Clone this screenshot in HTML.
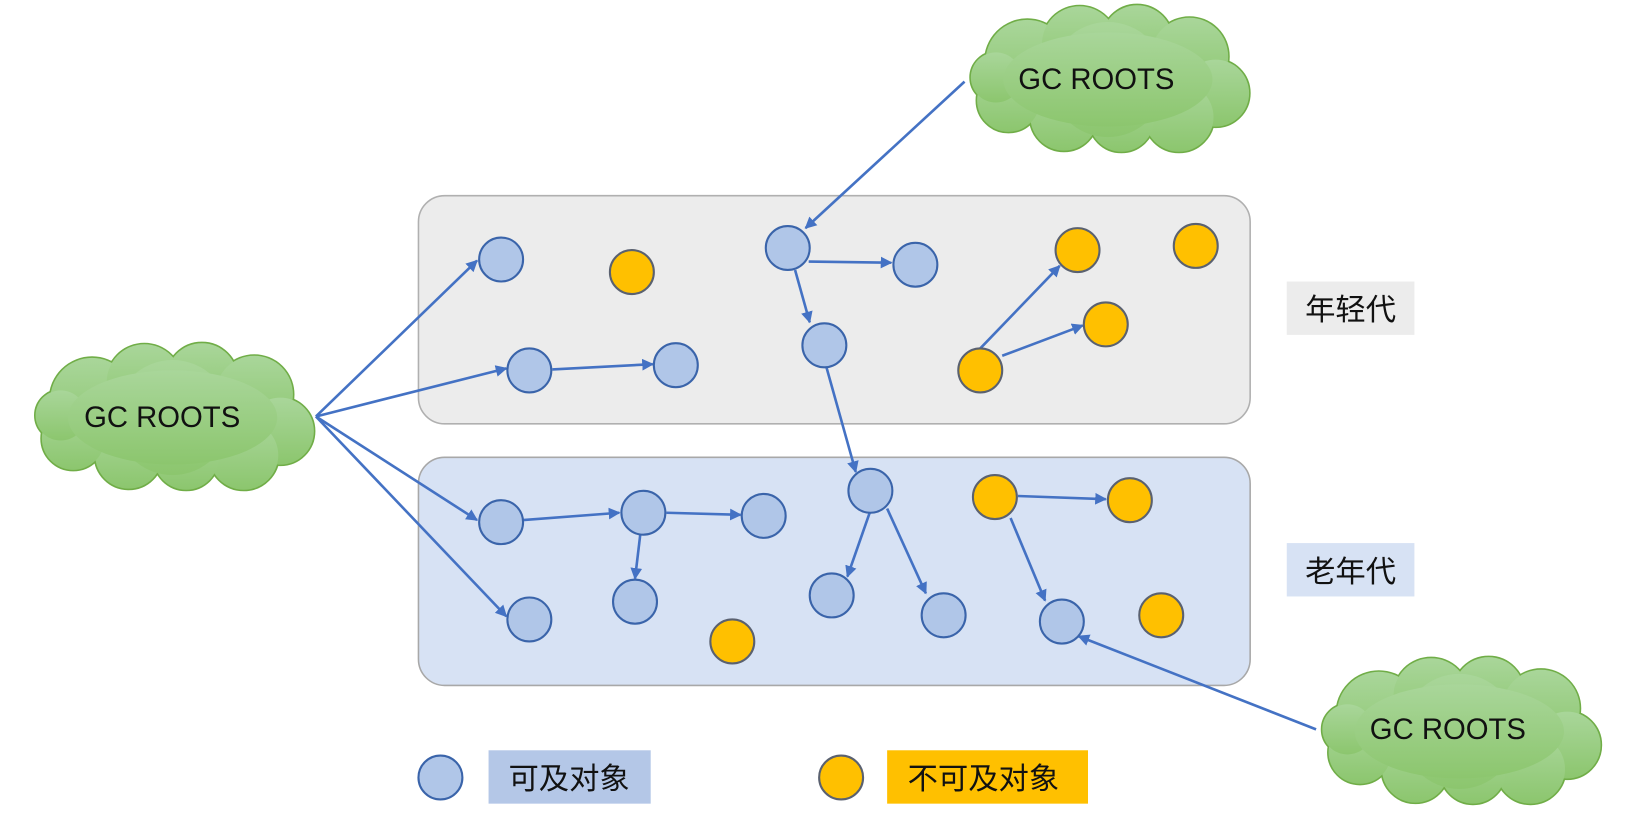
<!DOCTYPE html>
<html><head><meta charset="utf-8"><style>
html,body{margin:0;padding:0;background:#fff;}
svg{display:block;}
text{font-family:"Liberation Sans","Noto Sans CJK SC",sans-serif;}
</style></head><body>
<svg width="1632" height="834" viewBox="0 0 1560 797" preserveAspectRatio="none" xmlns="http://www.w3.org/2000/svg">
<defs>
<linearGradient id="g" x1="0" y1="0" x2="0" y2="1"><stop offset="0" stop-color="#a9d69a"/><stop offset="1" stop-color="#8cc66e"/></linearGradient>
<marker id="a" viewBox="0 0 10 10" refX="9" refY="5" markerWidth="4.5" markerHeight="4.5" orient="auto"><path d="M0,0 L10,5 L0,10 z" fill="#4472c4"/></marker>
<g id="cloud">
<g fill="none" stroke="#70ad47" stroke-width="3">
<circle cx="60" cy="55" r="40"/><circle cx="110" cy="38" r="36"/><circle cx="165" cy="35" r="34"/><circle cx="215" cy="50" r="37"/><circle cx="240" cy="85" r="32"/><circle cx="205" cy="108" r="33"/><circle cx="150" cy="110" r="31"/><circle cx="95" cy="108" r="32"/><circle cx="42" cy="92" r="30"/><circle cx="30" cy="70" r="24"/>
</g>
<g fill="url(#g)">
<circle cx="60" cy="55" r="40"/><circle cx="110" cy="38" r="36"/><circle cx="165" cy="35" r="34"/><circle cx="215" cy="50" r="37"/><circle cx="240" cy="85" r="32"/><circle cx="205" cy="108" r="33"/><circle cx="150" cy="110" r="31"/><circle cx="95" cy="108" r="32"/><circle cx="42" cy="92" r="30"/><circle cx="30" cy="70" r="24"/><circle cx="137" cy="72" r="55"/><ellipse cx="137" cy="72" rx="100" ry="45"/>
</g>
</g>
</defs>
<rect x="400" y="187" width="795" height="218" rx="25" fill="#ececec" stroke="#b0b0b0" stroke-width="1.5"/>
<rect x="400" y="437" width="795" height="218" rx="25" fill="#d7e2f4" stroke="#a8a8a8" stroke-width="1.5"/>
<rect x="1230" y="269" width="122" height="51" fill="#ececec"/>
<text x="1291" y="306" font-size="29" text-anchor="middle" fill="#111">年轻代</text>
<rect x="1230" y="519" width="122" height="51" fill="#d7e2f4"/>
<text x="1291" y="556" font-size="29" text-anchor="middle" fill="#111">老年代</text>

<use href="#cloud" x="922" y="4"/>
<text x="1048" y="85" font-size="28" text-anchor="middle" fill="#111">GC ROOTS</text>
<use href="#cloud" x="28" y="327"/>
<text x="155" y="408" font-size="28" text-anchor="middle" fill="#111">GC ROOTS</text>
<use href="#cloud" x="1258" y="627"/>
<text x="1384" y="706" font-size="28" text-anchor="middle" fill="#111">GC ROOTS</text>

<g stroke="#4472c4" stroke-width="2.5" fill="none" marker-end="url(#a)">
<line x1="302" y1="398" x2="456" y2="249"/>
<line x1="302" y1="398" x2="484" y2="352"/>
<line x1="302" y1="398" x2="456" y2="497"/>
<line x1="302" y1="398" x2="484" y2="589"/>
<line x1="922" y1="78" x2="770" y2="218"/>
<line x1="773" y1="250" x2="852" y2="251"/>
<line x1="760" y1="258" x2="774" y2="308"/>
<line x1="790" y1="351" x2="818" y2="451"/>
<line x1="528" y1="353" x2="624" y2="348"/>
<line x1="937" y1="333" x2="1013" y2="254"/>
<line x1="958" y1="340" x2="1035" y2="311"/>
<line x1="500" y1="497" x2="592" y2="490"/>
<line x1="637" y1="490" x2="708" y2="492"/>
<line x1="612" y1="511" x2="607" y2="553"/>
<line x1="832" y1="488" x2="810" y2="551"/>
<line x1="848" y1="486" x2="885" y2="567"/>
<line x1="973" y1="474" x2="1057" y2="477"/>
<line x1="966" y1="495" x2="999" y2="574"/>
<line x1="1258" y1="697" x2="1031" y2="608"/>
</g>

<g fill="#b0c6e8" stroke="#3a64aa" stroke-width="2">
<circle cx="479" cy="248" r="21"/><circle cx="506" cy="354" r="21"/><circle cx="646" cy="349" r="21"/>
<circle cx="753" cy="237" r="21"/><circle cx="875" cy="253" r="21"/><circle cx="788" cy="330" r="21"/>
<circle cx="479" cy="499" r="21"/><circle cx="615" cy="490" r="21"/><circle cx="730" cy="493" r="21"/>
<circle cx="506" cy="592" r="21"/><circle cx="607" cy="575" r="21"/><circle cx="832" cy="469" r="21"/>
<circle cx="795" cy="569" r="21"/><circle cx="902" cy="588" r="21"/><circle cx="1015" cy="594" r="21"/>
<circle cx="421" cy="743" r="21"/>
</g>
<g fill="#ffc000" stroke="#5a6170" stroke-width="2">
<circle cx="604" cy="260" r="21"/><circle cx="1030" cy="239" r="21"/><circle cx="1143" cy="235" r="21"/>
<circle cx="1057" cy="310" r="21"/><circle cx="937" cy="354" r="21"/>
<circle cx="951" cy="475" r="21"/><circle cx="1080" cy="478" r="21"/><circle cx="1110" cy="588" r="21"/>
<circle cx="700" cy="613" r="21"/><circle cx="804" cy="743" r="21"/>
</g>

<rect x="467" y="717" width="155" height="51" fill="#b4c7e7"/>
<text x="544" y="754" font-size="29" text-anchor="middle" fill="#111">可及对象</text>
<rect x="848" y="717" width="192" height="51" fill="#ffc000"/>
<text x="940" y="754" font-size="29" text-anchor="middle" fill="#111">不可及对象</text>
</svg>
</body></html>
